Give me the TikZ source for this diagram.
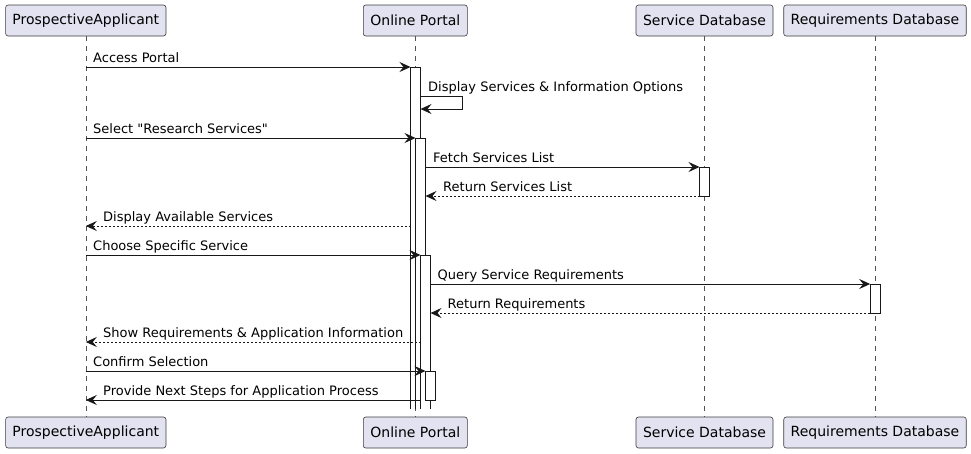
\documentclass[tikz,border=0pt]{standalone}
\usepackage{fontspec}
\setmainfont{DejaVu Sans}
\usetikzlibrary{arrows.meta}
\definecolor{boxfill}{HTML}{E2E2F0}
\definecolor{linec}{HTML}{181818}
\tikzset{
  participant/.style={draw=linec!85, fill=boxfill, rounded corners=2.5pt, line width=0.6pt,
    inner sep=0pt, minimum height=31pt, font=\fontsize{14pt}{16pt}\selectfont, text=black},
  lifeline/.style={draw=linec!75, line width=0.6pt, dash pattern=on 5pt off 5pt},
  actbar/.style={fill=white},
  actedge/.style={draw=linec, line width=0.9pt},
  msg/.style={draw=linec, line width=1pt, -{Stealth[length=11pt,width=10pt,inset=4pt]}},
  ret/.style={msg, dash pattern=on 2pt off 2pt},
  lbl/.style={anchor=base west, inner sep=0pt, font=\fontsize{13pt}{15pt}\selectfont, text=black},
}
\begin{document}
\begin{tikzpicture}[x=1pt,y=-1pt]
\useasboundingbox (0,0) rectangle (971,453);
% lifelines
\draw[lifeline] (85.8,36) -- (85.8,417);
\draw[lifeline] (415.5,36) -- (415.5,417);
\draw[lifeline] (704.5,36) -- (704.5,417);
\draw[lifeline] (875.2,36) -- (875.2,417);
% participants
\node[participant, minimum width=160.3pt] (appT) at (85.8,20.5) {ProspectiveApplicant};
\node[participant, minimum width=104pt] (portT) at (415.3,20.5) {Online Portal};
\node[participant, minimum width=137pt] (sdbT) at (704.5,20.5) {Service Database};
\node[participant, minimum width=182.5pt] (rdbT) at (875,20.5) {Requirements Database};
\node[participant, minimum width=160.3pt] (appB) at (85.8,432.5) {ProspectiveApplicant};
\node[participant, minimum width=104pt] (portB) at (415.3,432.5) {Online Portal};
\node[participant, minimum width=137pt] (sdbB) at (704.5,432.5) {Service Database};
\node[participant, minimum width=182.5pt] (rdbB) at (875,432.5) {Requirements Database};
% activation bars on portal (open at the bottom)
\fill[actbar] (410.5,67) rectangle (420.5,409);
\draw[actedge] (410.5,409) -- (410.5,67) -- (420.5,67) -- (420.5,409);
\fill[actbar] (415.5,138) rectangle (425.5,409);
\draw[actedge] (415.5,409) -- (415.5,138) -- (425.5,138) -- (425.5,409);
\fill[actbar] (420.5,255) rectangle (430.5,409);
\draw[actedge] (420.5,409) -- (420.5,255) -- (430.5,255) -- (430.5,409);
\draw[actedge, fill=white] (425.5,371) rectangle (435.5,400);
% database bars
\draw[actedge, fill=white] (699.5,167) rectangle (709.5,196);
\draw[actedge, fill=white] (870.2,284) rectangle (880.2,313);
% messages
\draw[msg] (85.8,67) -- (410.5,67);
\node[lbl] (m1) at (93,62) {Access Portal};
\draw[msg] (420.5,96) -- (462.3,96) -- (462.3,109) -- (420.5,109);
\node[lbl] (m2) at (428,91) {Display Services \& Information Options};
\draw[msg] (85.8,138) -- (415.5,138);
\node[lbl] (m3) at (93,133) {Select \textquotedbl Research Services\textquotedbl};
\draw[msg] (425.5,167) -- (699.5,167);
\node[lbl] (m4) at (433,162) {Fetch Services List};
\draw[ret] (699.5,196) -- (425.5,196);
\node[lbl] (m5) at (443,191) {Return Services List};
\draw[ret] (410.5,226) -- (85.8,226);
\node[lbl] (m6) at (103,221) {Display Available Services};
\draw[msg] (85.8,255) -- (420.5,255);
\node[lbl] (m7) at (93,250) {Choose Specific Service};
\draw[msg] (430.5,284) -- (870.2,284);
\node[lbl] (m8) at (437.5,279) {Query Service Requirements};
\draw[ret] (870.2,313) -- (430.5,313);
\node[lbl] (m9) at (447.5,308) {Return Requirements};
\draw[ret] (420.5,342) -- (85.8,342);
\node[lbl] (m10) at (103,337) {Show Requirements \& Application Information};
\draw[msg] (85.8,371) -- (425.5,371);
\node[lbl] (m11) at (93,366) {Confirm Selection};
\draw[msg] (420.5,400) -- (85.8,400);
\node[lbl] (m12) at (103,395) {Provide Next Steps for Application Process};
\end{tikzpicture}
\end{document}
